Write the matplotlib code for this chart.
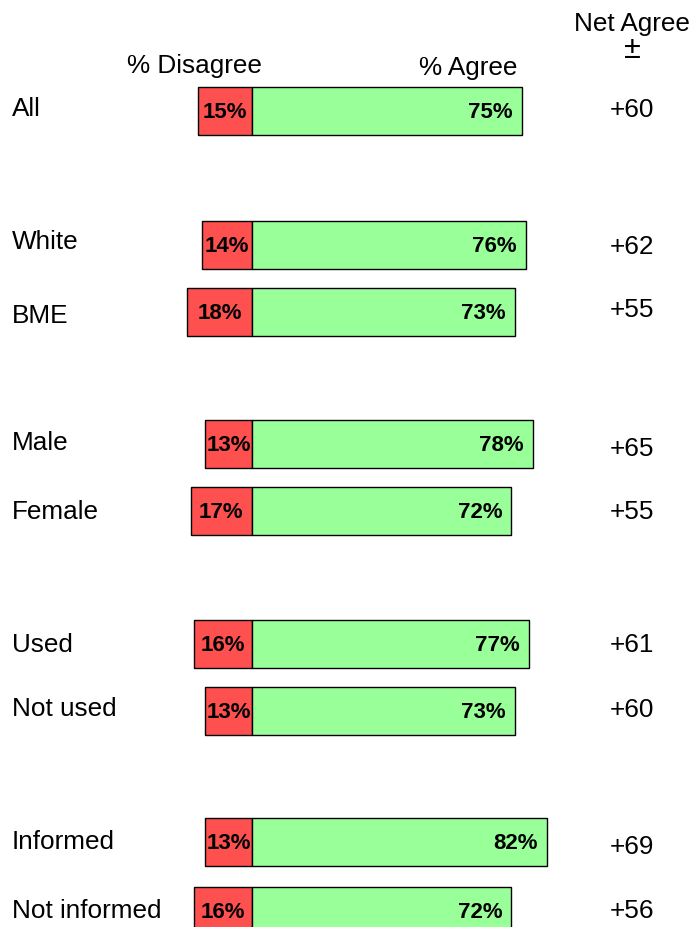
import matplotlib.pyplot as plt

plt.rcParams['font.family'] = ['Liberation Sans', 'DejaVu Sans']

groups = ['All', 'White', 'BME', 'Male', 'Female', 'Used', 'Not used',
          'Informed', 'Not informed']
disagree = [15, 14, 18, 13, 17, 16, 13, 13, 16]
agree = [75, 76, 73, 78, 72, 77, 73, 82, 72]
net = ['+60', '+62', '+55', '+65', '+55', '+61', '+60', '+69', '+56']

# vertical layout (pixel rows, top = 0)
bar_y = [112, 246, 313, 445, 512, 645, 712, 843, 912]
name_y = [109, 242, 316, 443, 512, 645, 709, 842, 911]
net_y = [110, 247, 310, 449, 512, 645, 710, 847, 911]

red = '#FF5050'
green = '#99FF99'
px = 3.6  # pixels per percentage point

fig = plt.figure(figsize=(6.94, 9.28), dpi=100)
ax = fig.add_axes([0, 0, 1, 1])
ax.set_xlim(-252 / px, (694 - 252) / px)
ax.set_ylim(928, 0)
ax.axis('off')

ax.barh(bar_y, [-d for d in disagree], height=48, color=red,
        edgecolor='black', linewidth=1)
ax.barh(bar_y, agree, height=48, color=green, edgecolor='black', linewidth=1)

fs = 18.8
bold = dict(fontweight='bold', fontsize=16)
x_name = -240 / px
x_net = 380 / px
for i, g in enumerate(groups):
    ax.text(x_name, name_y[i], g, fontsize=fs, ha='left', va='center')
    ax.text(-disagree[i] / 2, bar_y[i] + 1, f"{disagree[i]}%",
            ha='center', va='center', **bold)
    ax.text(agree[i] - 2.5, bar_y[i] + 1, f"{agree[i]}%",
            ha='right', va='center', **bold)
    ax.text(x_net, net_y[i], net[i], fontsize=fs, ha='center', va='center')

ax.text(-58 / px, 66, '% Disagree', fontsize=fs, ha='center', va='center')
ax.text(216 / px, 68, '% Agree', fontsize=fs, ha='center', va='center')
ax.text(x_net, 24, 'Net Agree', fontsize=fs, ha='center', va='center')
ax.text(x_net, 50, '±', fontsize=22, ha='center', va='center')

fig.savefig('out.png', dpi=100)
